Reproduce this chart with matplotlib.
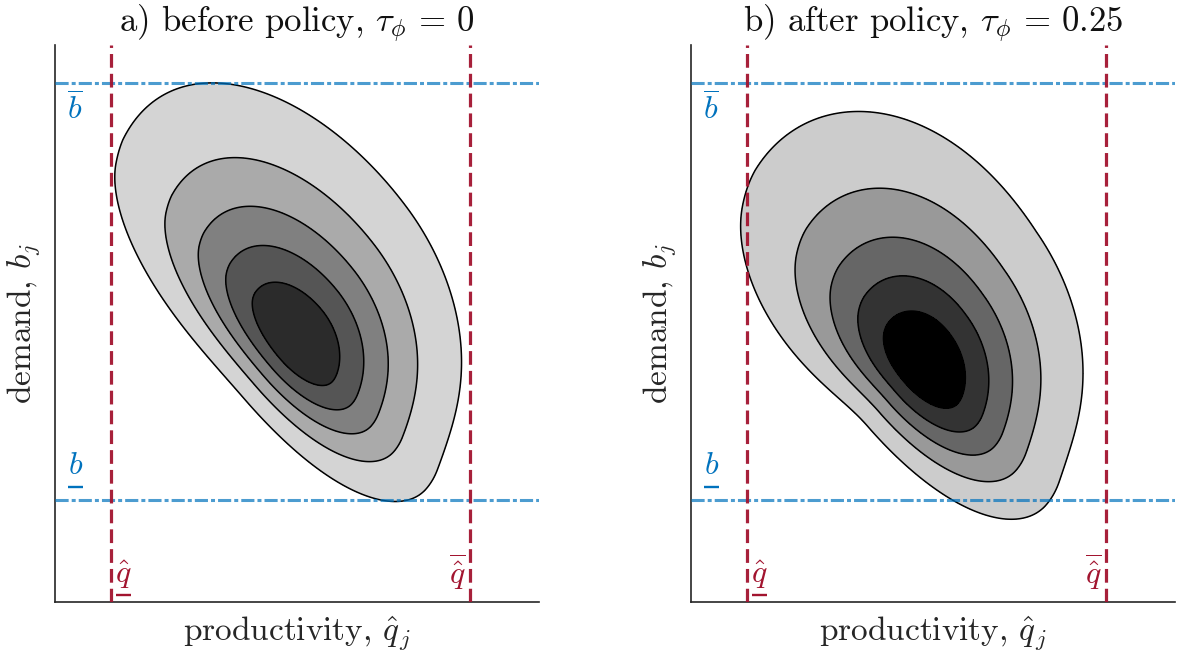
import numpy as np
import matplotlib
matplotlib.use("Agg")
import matplotlib.pyplot as plt

plt.rcParams['font.family'] = 'serif'
plt.rcParams['font.serif'] = ['cmr10']
plt.rcParams['mathtext.fontset'] = 'cm'
plt.rcParams['axes.formatter.use_mathtext'] = True

# panel titles and axis labels
titles = [r'a) before policy, $\tau_\phi\,=\,0$', r'b) after policy, $\tau_\phi\,=\,0.25$']
xlabel = r'productivity, $\hat{q}_j$'
ylabel = r'demand, $b_j$'

# policy bounds (axes run 0..1)
q_low, q_high = 0.116, 0.858
b_low, b_high = 0.183, 0.932

# density shape: peak, tilt, half-axis spreads and tail factors
# spreads: (u-, u+, v-, v+), u runs to lower right, v to upper right
# tails: (u-, u+, upper tail); the upper tail is turned by tail_turn degrees towards u-
peak_x = [0.500, 0.479]
peak_y = [0.470, 0.429]
tilt_deg = [45, 45]
spreads = [(0.170, 0.160, 0.080, 0.100),
           (0.126, 0.160, 0.085, 0.104)]
tails = [(0.295, 0.13, 0.40),
         (0.54, 0.10, 0.38)]
tail_turn = [10, 12]

# contour levels (fraction of peak density) and fill shades
levels = [1/6, 2/6, 3/6, 4/6, 5/6, 1.01]
shades = [['#d4d4d4', '#aaaaaa', '#808080', '#555555', '#2b2b2b'],
          ['#cccccc', '#999999', '#666666', '#333333', '#000000']]

red = '#A2142F'
blue = '#0072BD'


def density(X, Y, i):
    dx = X - peak_x[i]
    dy = Y - peak_y[i]
    a = np.deg2rad(tilt_deg[i])
    u = dx * np.cos(a) - dy * np.sin(a)
    v = dx * np.sin(a) + dy * np.cos(a)
    s_um, s_up, s_vm, s_vp = spreads[i]
    c_um, c_up, c_top = tails[i]
    nu = u / np.where(u < 0, s_um, s_up)
    nv = v / np.where(v < 0, s_vm, s_vp)
    r = np.hypot(nu, nv)
    phi = np.arctan2(nv, nu)
    phi_t = np.deg2rad(90 + tail_turn[i])
    c = (c_um * np.maximum(0, -np.cos(phi))**2
         + c_up * np.maximum(0, np.cos(phi))**2
         + c_top * np.maximum(0, np.cos(phi - phi_t))**2)
    c = np.maximum(c, 1e-6)
    rho = (np.sqrt(1 + 4 * c * r) - 1) / (2 * c)
    return np.exp(-0.5 * rho**2)


gx = np.linspace(0, 1, 500)
X, Y = np.meshgrid(gx, gx)

fig = plt.figure(figsize=(11.79, 6.52), dpi=100)
lefts = [55 / 1179, 691 / 1179]
for i in range(2):
    ax = fig.add_axes([lefts[i], 50 / 652, 484 / 1179, 557 / 652])
    Z = density(X, Y, i)
    ax.contourf(X, Y, Z, levels=levels, colors=shades[i], zorder=1)
    ax.contour(X, Y, Z, levels=levels[:-1], colors='k', linewidths=1.1, zorder=2)

    ax.axhline(b_high, color=blue, alpha=0.7, lw=2.2, ls=(0, (4.3, 1.0, 1.3, 1.0)), zorder=3)
    ax.axhline(b_low, color=blue, alpha=0.7, lw=2.2, ls=(0, (4.3, 1.0, 1.3, 1.0)), zorder=3)
    ax.axvline(q_low, color=red, alpha=0.95, lw=2.3, ls=(0, (4.3, 1.9)), zorder=4)
    ax.axvline(q_high, color=red, alpha=0.95, lw=2.3, ls=(0, (4.3, 1.9)), zorder=4)

    # bound labels; mathtext has no \underline, so the bar is drawn as a short line
    ax.text(0.042, 0.885, r'$\overline{b}$', color=blue, fontsize=23, ha='center', va='center')
    ax.text(0.042, 0.243, r'$b$', color=blue, fontsize=23, ha='center', va='center')
    ax.plot([0.026, 0.058], [0.206, 0.206], color=blue, lw=1.7, transform=ax.transAxes,
            solid_capstyle='butt')
    ax.text(0.141, 0.050, r'$\hat{q}$', color=red, fontsize=23, ha='center', va='center')
    ax.plot([0.125, 0.158], [0.013, 0.013], color=red, lw=1.7, transform=ax.transAxes,
            solid_capstyle='butt')
    ax.text(0.832, 0.055, r'$\overline{\hat{q}}$', color=red, fontsize=23, ha='center', va='center')

    ax.set_xlim(0, 1)
    ax.set_ylim(0, 1)
    ax.set_xticks([])
    ax.set_yticks([])
    for side in ['top', 'right']:
        ax.spines[side].set_visible(False)
    for side in ['left', 'bottom']:
        ax.spines[side].set_color('#262626')
        ax.spines[side].set_linewidth(1.2)
    ax.set_title(titles[i], fontsize=25, color='#111111', pad=9)
    ax.set_xlabel(xlabel, fontsize=24, color='#262626', labelpad=9)
    ax.set_ylabel(ylabel, fontsize=24, color='#262626', labelpad=9)

fig.savefig('out.png', dpi=100)
